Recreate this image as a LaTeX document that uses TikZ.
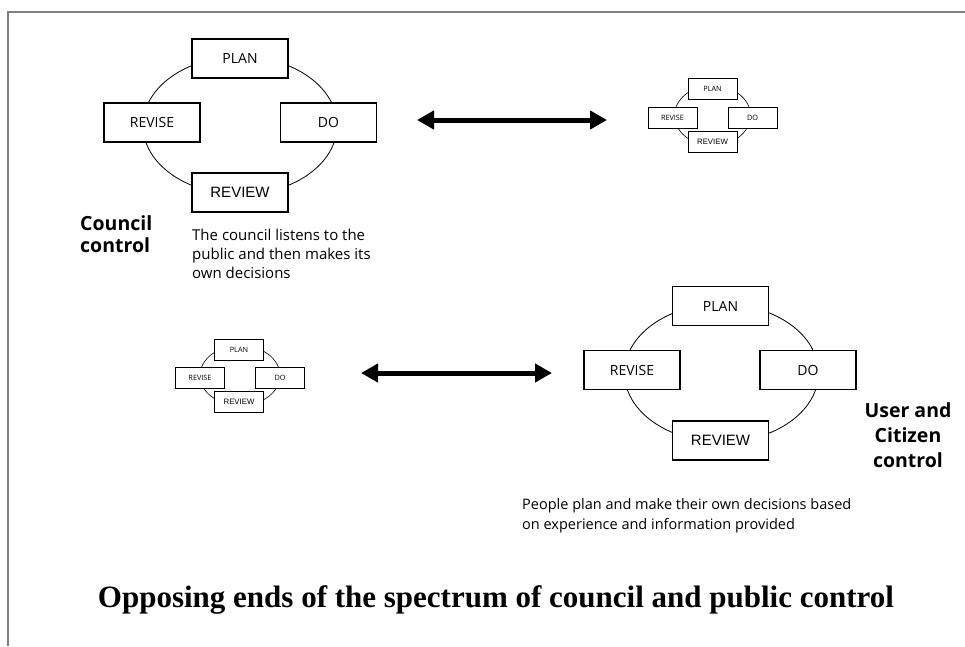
\documentclass[tikz,border=0pt]{standalone}
\usepackage{fontspec}
\usetikzlibrary{arrows.meta}
\newfontfamily\labelfont{Open Sans}
\newfontfamily\arialfont{Liberation Sans}
\newfontfamily\titlefont{Liberation Serif}
\tikzset{
  bigbox/.style={draw, line width=1.2pt, fill=white, minimum width=96pt, minimum height=39pt, inner sep=0pt, font=\labelfont\fontsize{14}{16}\selectfont},
  smallbox/.style={draw, line width=0.9pt, fill=white, minimum width=49pt, minimum height=21pt, inner sep=0pt, font=\labelfont\fontsize{7.3}{8}\selectfont},
  bigreview/.style={bigbox, font=\arialfont\fontsize{15}{17}\selectfont},
  smallreview/.style={smallbox, font=\arialfont\fontsize{7.8}{9}\selectfont},
  loopline/.style={draw, line width=0.8pt},
  spectrum/.style={line width=5pt, {Triangle[length=17pt,width=18pt]}-{Triangle[length=17pt,width=18pt]}},
  sidelabel/.style={font=\labelfont\bfseries\fontsize{19.5}{24}\selectfont, inner sep=0pt},
  notea/.style={font=\labelfont\fontsize{15}{19}\selectfont, inner sep=0pt, anchor=base west},
  noteb/.style={font=\labelfont\fontsize{14.5}{19}\selectfont, inner sep=0pt, anchor=base west},
}
\begin{document}
\begin{tikzpicture}[x=1pt, y=-1pt]
\useasboundingbox (0,0) rectangle (965,646);
% page frame
\draw[line width=2pt, color=black!50] (8,646) -- (8,11.5) -- (965,11.5);

% cycle: council control (large)
\draw[loopline] (240,125.5) ellipse [x radius=97, y radius=69];
\node[bigbox] (plana) at (240,58.5) {PLAN};
\node[bigbox] (revisea) at (152,122.5) {REVISE};
\node[bigbox] (doa) at (328.5,122.5) {DO};
\node[bigreview] (reviewa) at (240,192.5) {REVIEW};

% cycle: small, top right
\draw[loopline, line width=0.6pt] (712.5,115.5) ellipse [x radius=38, y radius=30];
\node[smallbox] (planb) at (712.5,89) {PLAN};
\node[smallbox] (reviseb) at (672.5,117.5) {REVISE};
\node[smallbox] (dob) at (752.5,117.5) {DO};
\node[smallreview] (reviewb) at (712.5,141.5) {REVIEW};

% cycle: small, bottom left
\draw[loopline, line width=0.6pt] (240,375.5) ellipse [x radius=40, y radius=30];
\node[smallbox] (planc) at (239,349.5) {PLAN};
\node[smallbox] (revisec) at (200,377.5) {REVISE};
\node[smallbox] (doc) at (280,377.5) {DO};
\node[smallreview] (reviewc) at (239,402) {REVIEW};

% cycle: user and citizen control (large)
\draw[loopline] (721.5,373) ellipse [x radius=97, y radius=69];
\node[bigbox] (pland) at (720.5,306) {PLAN};
\node[bigbox] (revised) at (632,370) {REVISE};
\node[bigbox] (dod) at (808,370) {DO};
\node[bigreview] (reviewd) at (720.5,440.5) {REVIEW};

% spectrum arrows
\coordinate (a1) at (417,120);
\coordinate (a2) at (607,120);
\draw[spectrum] (a1) -- (a2);
\coordinate (b1) at (361,373);
\coordinate (b2) at (552,373);
\draw[spectrum] (b1) -- (b2);

% labels
\node[sidelabel, anchor=base west] (council1) at (80,230) {Council};
\node[sidelabel, anchor=base west] (council2) at (80,252) {control};
\node[notea] (notea1) at (192,240) {The council listens to the};
\node[notea] (notea2) at (192,259.5) {public and then makes its};
\node[notea] (notea3) at (192,278.5) {own decisions};

\node[sidelabel, anchor=base] (user1) at (908,417.5) {User and};
\node[sidelabel, anchor=base] (user2) at (908,442.5) {Citizen};
\node[sidelabel, anchor=base] (user3) at (908,467.5) {control};
\node[noteb] (noteb1) at (522,509) {People plan and make their own decisions based};
\node[noteb] (noteb2) at (522,529) {on experience and information provided};

\node[font=\titlefont\bfseries\fontsize{31}{36}\selectfont, inner sep=0pt, anchor=base] (title) at (496,607.5) {Opposing ends of the spectrum of council and public control};
\end{tikzpicture}
\end{document}
